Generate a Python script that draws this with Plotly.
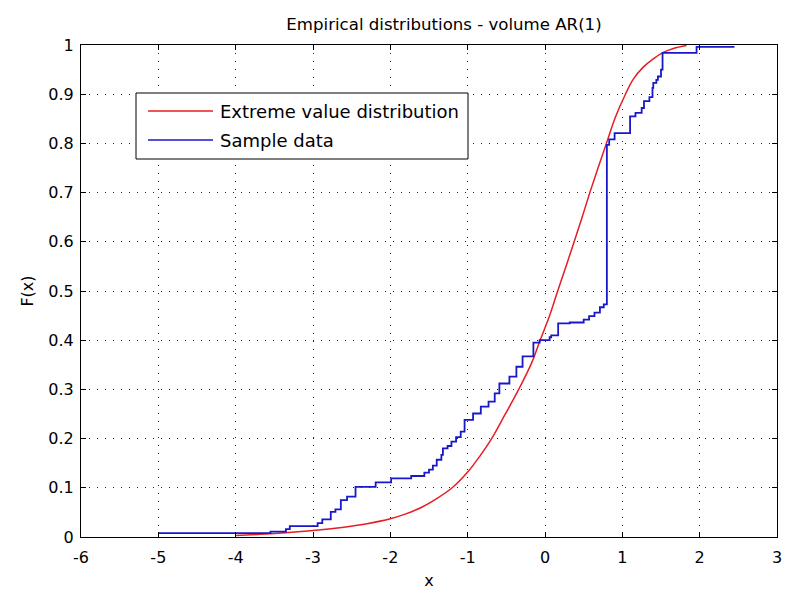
import plotly.graph_objects as go

# Fitted extreme value CDF, sampled along the curve
ev_x = [-4.00, -3.50, -3.00, -2.60, -2.30, -2.00, -1.80, -1.60, -1.40, -1.20,
        -1.00, -0.84, -0.69, -0.52, -0.34, -0.17, -0.07, 0.06, 0.16, 0.28,
        0.36, 0.47, 0.58, 0.69, 0.79, 0.91, 1.04, 1.14, 1.27, 1.40,
        1.53, 1.66, 1.83]
ev_F = [0.003, 0.007, 0.013, 0.020, 0.027, 0.037, 0.047, 0.060, 0.078, 0.100,
        0.132, 0.165, 0.200, 0.248, 0.300, 0.355, 0.397, 0.450, 0.498, 0.554,
        0.592, 0.645, 0.700, 0.752, 0.798, 0.853, 0.900, 0.930, 0.955, 0.972,
        0.985, 0.993, 0.999]

# Empirical CDF of the sample: jump locations and level after each jump
ecdf_x = [-5.00, -3.55, -3.35, -3.30, -2.94, -2.88, -2.77, -2.71, -2.64, -2.56,
          -2.45, -2.19, -1.99, -1.73, -1.56, -1.50, -1.45, -1.40, -1.34, -1.32,
          -1.26, -1.21, -1.15, -1.09, -1.04, -0.93, -0.83, -0.73, -0.65, -0.59,
          -0.46, -0.37, -0.29, -0.15, -0.07, 0.06, 0.08, 0.17, 0.32, 0.50,
          0.57, 0.64, 0.71, 0.76, 0.80, 0.83, 0.90, 1.10, 1.17, 1.25,
          1.28, 1.35, 1.39, 1.40, 1.44, 1.46, 1.50, 1.52, 1.96, 2.45]
ecdf_F = [0.008, 0.011, 0.016, 0.022, 0.028, 0.036, 0.051, 0.056, 0.075, 0.082,
          0.102, 0.111, 0.119, 0.124, 0.131, 0.137, 0.145, 0.157, 0.167, 0.180,
          0.185, 0.194, 0.203, 0.214, 0.238, 0.251, 0.265, 0.275, 0.292, 0.312,
          0.326, 0.346, 0.367, 0.395, 0.400, 0.406, 0.410, 0.434, 0.436, 0.442,
          0.449, 0.456, 0.467, 0.473, 0.797, 0.808, 0.821, 0.855, 0.862, 0.872,
          0.886, 0.894, 0.913, 0.923, 0.929, 0.936, 0.950, 0.984, 0.996, 0.996]

x_ticks = [-6, -5, -4, -3, -2, -1, 0, 1, 2, 3]
y_ticks = [0, 0.1, 0.2, 0.3, 0.4, 0.5, 0.6, 0.7, 0.8, 0.9, 1]
y_tick_text = ["0", "0.1", "0.2", "0.3", "0.4", "0.5", "0.6", "0.7", "0.8", "0.9", "1"]

series_names = ["Extreme value distribution", "Sample data"]
RED = "#e81c24"
BLUE = "#1818c8"
FONT = "DejaVu Sans"
TICK_SIZE = 16

fig = go.Figure()
fig.add_trace(go.Scatter(x=ev_x, y=ev_F, mode="lines", name=series_names[0],
                         line=dict(color=RED, width=1.5, shape="spline", smoothing=1.0),
                         showlegend=False))
fig.add_trace(go.Scatter(x=ecdf_x, y=ecdf_F, mode="lines", name=series_names[1],
                         line=dict(color=BLUE, width=1.8, shape="hv"),
                         showlegend=False))

axis_common = dict(
    showline=True, linecolor="black", linewidth=1, mirror="allticks",
    ticks="inside", ticklen=5, tickcolor="black",
    showgrid=True, gridcolor="#222", gridwidth=1, griddash="1px,7px",
    zeroline=False, automargin=False,
    tickfont=dict(family=FONT, size=TICK_SIZE, color="black"),
)

fig.update_xaxes(range=[-6, 3], tickvals=x_ticks, ticktext=[str(v) for v in x_ticks],
                 ticklabelstandoff=6,
                 title=dict(text="x", font=dict(family=FONT, size=TICK_SIZE, color="black"),
                            standoff=8),
                 **axis_common)
fig.update_yaxes(range=[0, 1], tickvals=y_ticks, ticktext=y_tick_text,
                 ticklabelstandoff=3,
                 title=dict(text="F(x)", font=dict(family=FONT, size=TICK_SIZE, color="black"),
                            standoff=10),
                 **axis_common)

# Legend box drawn in the upper-left corner of the axes
W, H = 696.0, 492.0
def px_x(p):
    return (p - 81) / W
def px_y(p):
    return 1 - (p - 45) / H

shapes = [
    dict(type="rect", xref="paper", yref="paper",
         x0=px_x(136), x1=px_x(468), y0=px_y(159), y1=px_y(93),
         line=dict(color="black", width=1), fillcolor="white", layer="above"),
    dict(type="line", xref="paper", yref="paper",
         x0=px_x(148), x1=px_x(213), y0=px_y(111), y1=px_y(111),
         line=dict(color=RED, width=1.5), layer="above"),
    dict(type="line", xref="paper", yref="paper",
         x0=px_x(148), x1=px_x(213), y0=px_y(140), y1=px_y(140),
         line=dict(color=BLUE, width=1.5), layer="above"),
]
annotations = [
    dict(text=series_names[0], xref="paper", yref="paper", x=px_x(218), y=px_y(111),
         xanchor="left", yanchor="middle", showarrow=False,
         font=dict(family=FONT, size=18, color="black")),
    dict(text=series_names[1], xref="paper", yref="paper", x=px_x(218), y=px_y(140),
         xanchor="left", yanchor="middle", showarrow=False,
         font=dict(family=FONT, size=18, color="black")),
]

fig.update_layout(
    width=787, height=593,
    margin=dict(l=81, r=10, t=45, b=56),
    paper_bgcolor="white", plot_bgcolor="white",
    title=dict(text="Empirical distributions - volume AR(1)", x=px_x(444), xanchor="center",
               xref="paper", y=1 - 24 / 593, yref="container", yanchor="middle",
               font=dict(family=FONT, size=16.6, color="black")),
    shapes=shapes, annotations=annotations,
)

fig.write_html("out.html")
